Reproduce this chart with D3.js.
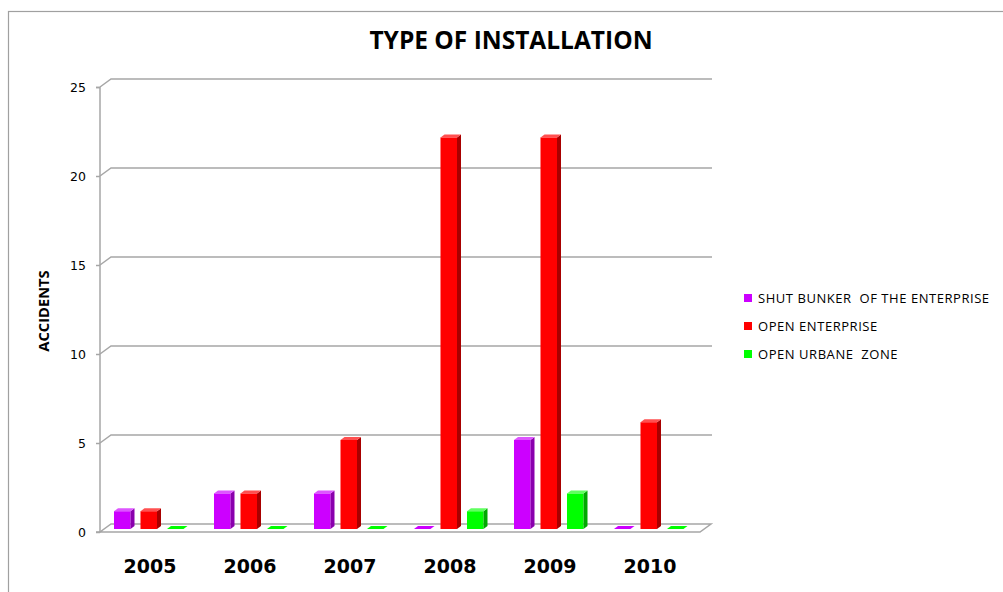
<!DOCTYPE html>
<html>
<head>
<meta charset="utf-8">
<script src="https://cdn.jsdelivr.net/npm/d3@7"></script>
<style>
  body { margin: 0; background: #fff; }
  svg { display: block; font-family: 'Liberation Sans', Arial, sans-serif; }
</style>
</head>
<body>
<svg width="1003" height="592"></svg>
<script>
const years = ['2005', '2006', '2007', '2008', '2009', '2010'];
const seriesNames = ['SHUT BUNKER  OF THE ENTERPRISE', 'OPEN ENTERPRISE', 'OPEN URBANE  ZONE'];
const shutBunker = [1, 2, 2, 0, 5, 0];
const openEnterprise = [1, 2, 5, 22, 22, 6];
const openUrbane = [0, 0, 0, 1, 2, 0];
const yTicks = [0, 5, 10, 15, 20, 25];

const colors = ['#cc00ff', '#ff0000', '#00ff00'];
const sideColors = ['#8a00ad', '#a80000', '#00a800'];
const topColors = ['#dd55ff', '#ff5050', '#60ff60'];

const svg = d3.select('svg');

// flatten to rows
const data = [];
[shutBunker, openEnterprise, openUrbane].forEach((vals, si) => {
    vals.forEach((v, i) => data.push({ year: years[i], series: si, value: v }));
});

const depthX = 11, depthY = -8;   // floor depth
const barDX = 4, barDY = -3;      // bar depth

const xScale = d3.scaleBand()
    .domain(years)
    .range([100, 700]);

const subScale = d3.scaleBand()
    .domain([0, 1, 2])
    .range([10, 79.5])
    .paddingInner(0.377);

const yScale = d3.scaleLinear()
    .domain([0, 25])
    .range([532, 87]);

// outer frame
svg.append('rect')
    .attr('x', 8.5).attr('y', 11.5)
    .attr('width', 1100).attr('height', 700)
    .attr('fill', 'none')
    .attr('stroke', '#a0a0a0')
    .attr('stroke-width', 1.2);

// gridlines (side diagonal + back wall line)
const grid = svg.append('g');
yTicks.filter(t => t > 0).forEach(t => {
    const y = yScale(t);
    grid.append('path')
        .attr('d', `M100,${y}L${100 + depthX},${y + depthY}L${700 + depthX + 1},${y + depthY}`)
        .attr('fill', 'none')
        .attr('stroke', '#a6a6a6')
        .attr('stroke-width', 1.5);
});

// floor
const y0 = yScale(0);
svg.append('path')
    .attr('d', `M100,${y0}L700,${y0}L${700 + depthX},${y0 + depthY}L${100 + depthX},${y0 + depthY}Z`)
    .attr('fill', 'none')
    .attr('stroke', '#a6a6a6')
    .attr('stroke-width', 1.5);

// y axis
const yAxis = d3.axisLeft(yScale)
    .tickValues(yTicks)
    .tickSize(4)
    .tickPadding(10);
const yAxisG = svg.append('g')
    .attr('transform', 'translate(100,0)')
    .call(yAxis);
yAxisG.selectAll('path, line').attr('stroke', '#a6a6a6').attr('stroke-width', 1.5);
yAxisG.select('.domain').attr('d', `M-4,87.5H0V${y0}H-4`);
yAxisG.selectAll('text')
    .attr('font-family', 'DejaVu Sans, sans-serif')
    .attr('font-size', 12.5)
    .attr('fill', '#000');

// bars
const bars = svg.append('g');
data.forEach(d => {
    const c = d.series;
    const x = xScale(d.year) + subScale(c) + barDX;
    const w = subScale.bandwidth();
    const yb = yScale(0) + barDY;
    const yt = yScale(d.value) + barDY;
    if (d.value > 0) {
        bars.append('rect')
            .attr('x', x).attr('y', yt)
            .attr('width', w).attr('height', yb - yt)
            .attr('fill', colors[c]);
        bars.append('path')
            .attr('d', `M${x + w},${yt}L${x + w + barDX},${yt + barDY}L${x + w + barDX},${yb + barDY}L${x + w},${yb}Z`)
            .attr('fill', sideColors[c]);
    }
    bars.append('path')
        .attr('d', `M${x},${yt}L${x + barDX},${yt + barDY}L${x + w + barDX},${yt + barDY}L${x + w},${yt}Z`)
        .attr('fill', d.value > 0 ? topColors[c] : colors[c]);
});

// x axis labels
svg.append('g')
    .selectAll('text')
    .data(years)
    .join('text')
    .attr('x', d => xScale(d) + xScale.bandwidth() / 2)
    .attr('y', 573)
    .attr('text-anchor', 'middle')
    .attr('font-family', 'DejaVu Sans, sans-serif')
    .attr('font-size', 19)
    .attr('font-weight', 'bold')
    .text(d => d);

// title
svg.append('text')
    .attr('x', 511)
    .attr('y', 49)
    .attr('text-anchor', 'middle')
    .attr('font-family', 'Open Sans, sans-serif')
    .attr('font-size', 24.5)
    .attr('font-weight', 'bold')
    .text('TYPE OF INSTALLATION');

// y axis label
svg.append('text')
    .attr('transform', 'translate(49,311) rotate(-90)')
    .attr('text-anchor', 'middle')
    .attr('font-family', 'Open Sans, sans-serif')
    .attr('font-size', 14.7)
    .attr('font-weight', 'bold')
    .text('ACCIDENTS');

// legend
const legend = svg.append('g')
    .attr('transform', 'translate(744,298)');
const item = legend.selectAll('g')
    .data(seriesNames)
    .join('g')
    .attr('transform', (d, i) => `translate(0,${i * 28})`);
item.append('rect')
    .attr('x', 0).attr('y', -4)
    .attr('width', 8).attr('height', 8)
    .attr('fill', (d, i) => colors[i]);
item.append('text')
    .attr('x', 14)
    .attr('y', 5)
    .attr('font-family', 'Open Sans, sans-serif')
    .attr('font-size', 13)
    .attr('letter-spacing', 0.55)
    .style('white-space', 'pre')
    .text(d => d);
</script>
</body>
</html>
